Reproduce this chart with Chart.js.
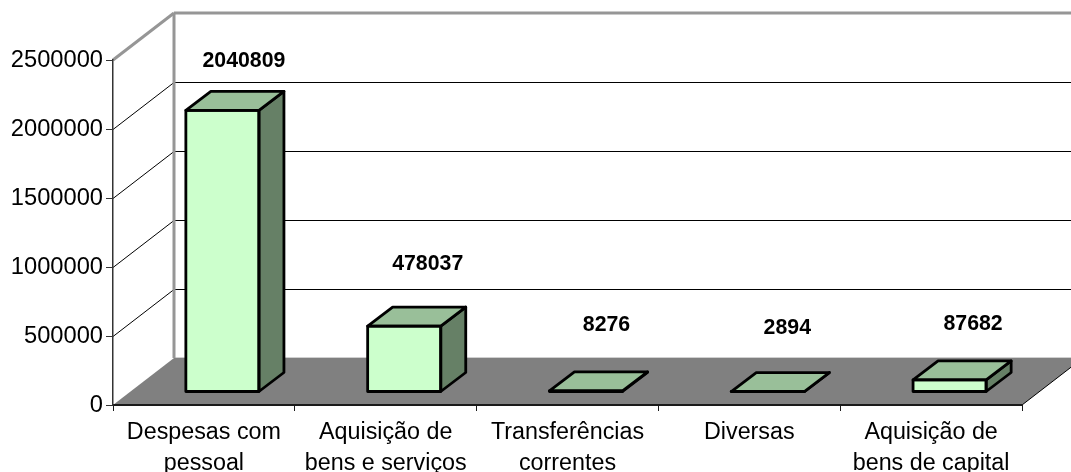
<!DOCTYPE html>
<html><head><meta charset="utf-8">
<script src="https://cdn.jsdelivr.net/npm/chart.js@4"></script>
<style>html,body{margin:0;padding:0;background:#fff}canvas{display:block}</style>
</head><body><canvas id="c" width="1071" height="472"></canvas>
<script>
const categories = [["Despesas com","pessoal"],["Aquisição de","bens e serviços"],["Transferências","correntes"],["Diversas"],["Aquisição de","bens de capital"]];
const values = [2040809, 478037, 8276, 2894, 87682];
const labelShiftX = [21.5, 23.5, 20.5, 19.5, 23.5];
const labelLift = [50, 63, 67, 64.5, 57];
const AXIS_MAX = 2500000, AXIS_STEP = 500000;
const WALL = {dx: 61, dy: -47};
const BAR_SHIFT = {dx: 18.5, dy: -13};
const DEPTH = {dx: 25, dy: -19};
const COL = {front:'#CCFFCC', top:'#99BF99', side:'#668066', floor:'#808080', wall:'#969696', ink:'#000'};
const FONT = 'Arial, "Liberation Sans", sans-serif';

function line(ctx, x1,y1,x2,y2,color,w){ctx.strokeStyle=color;ctx.lineWidth=w;ctx.beginPath();ctx.moveTo(x1,y1);ctx.lineTo(x2,y2);ctx.stroke();}
function poly(ctx, pts, fill){ctx.strokeStyle=COL.ink;ctx.lineWidth=2.8;ctx.lineJoin='round';ctx.beginPath();pts.forEach((p,i)=>i?ctx.lineTo(p[0],p[1]):ctx.moveTo(p[0],p[1]));ctx.closePath();if(fill){ctx.fillStyle=fill;ctx.fill();}ctx.stroke();}

const scene = {
  id:'scene',
  beforeDraw(chart){
    const {ctx, chartArea:a, scales:{y}} = chart;
    const x0=a.left, x1=a.right, y0=y.getPixelForValue(0), yM=y.getPixelForValue(AXIS_MAX);
    ctx.save();
    ctx.fillStyle=COL.floor;
    ctx.beginPath();ctx.moveTo(x0,y0);ctx.lineTo(x1,y0);ctx.lineTo(x1+WALL.dx,y0+WALL.dy);ctx.lineTo(x0+WALL.dx,y0+WALL.dy);ctx.closePath();ctx.fill();
    line(ctx,x0+WALL.dx,y0+WALL.dy-.5,x1+WALL.dx,y0+WALL.dy-.5,'#d0d0d0',1);
    y.ticks.forEach(t=>{
      const p=Math.round(y.getPixelForValue(t.value))+.5;
      if(t.value>0&&t.value<AXIS_MAX){
        line(ctx,x0,p,x0+WALL.dx,p+WALL.dy,COL.ink,1);
        line(ctx,x0+WALL.dx,p+WALL.dy,x1+WALL.dx,p+WALL.dy,COL.ink,1);
      }
    });
    line(ctx,x0+WALL.dx,yM+WALL.dy,x1+WALL.dx,yM+WALL.dy,COL.wall,3);
    line(ctx,x0+WALL.dx,yM+WALL.dy,x0+WALL.dx,y0+WALL.dy,COL.wall,3);
    line(ctx,x0,yM,x0+WALL.dx,yM+WALL.dy,COL.wall,3);
    line(ctx,x1,y0,x1+WALL.dx,y0+WALL.dy,COL.ink,1);
    ctx.restore();
  },
  beforeDatasetsDraw(chart){chart.ctx.save();chart.ctx.translate(BAR_SHIFT.dx,BAR_SHIFT.dy);},
  afterDatasetsDraw(chart){
    const ctx=chart.ctx;
    chart.getDatasetMeta(0).data.forEach((b)=>{
      const l=b.x-b.width/2, r=b.x+b.width/2, top=b.y, bt=b.base;
      poly(ctx,[[r,top],[r+DEPTH.dx,top+DEPTH.dy],[r+DEPTH.dx,bt+DEPTH.dy],[r,bt]],COL.side);
      poly(ctx,[[l,top],[l+DEPTH.dx,top+DEPTH.dy],[r+DEPTH.dx,top+DEPTH.dy],[r,top]],COL.top);
      poly(ctx,[[l,top],[r,top],[r,bt],[l,bt]],null);
    });
    ctx.restore();
    ctx.save();
    ctx.fillStyle=COL.ink;ctx.font='bold 21.3px '+FONT;ctx.textAlign='center';ctx.textBaseline='middle';
    chart.getDatasetMeta(0).data.forEach((b,i)=>{
      ctx.fillText(String(values[i]), b.x+BAR_SHIFT.dx+labelShiftX[i], b.y+BAR_SHIFT.dy-labelLift[i]+1);
    });
    ctx.restore();
  }
};

new Chart(document.getElementById('c'),{
  type:'bar',
  data:{labels:categories,datasets:[{data:values,backgroundColor:COL.front,borderWidth:0,
    categoryPercentage:1,barPercentage:0.402,clip:false}]},
  plugins:[scene],
  options:{
    responsive:false,animation:false,
    layout:{padding:{top:60,right:49,left:0,bottom:0}},
    plugins:{legend:{display:false},tooltip:{enabled:false},title:{display:false}},
    scales:{
      x:{
        afterFit(s){s.height=67;},
        border:{color:'#1a1a1a',width:2},
        grid:{drawOnChartArea:false,color:'#1a1a1a',tickLength:6,offset:true},
        ticks:{color:COL.ink,font:{family:FONT,size:23.3,lineHeight:1.32},maxRotation:0,minRotation:0,autoSkip:false,padding:6}
      },
      y:{
        min:0,max:AXIS_MAX,
        afterFit(s){s.width=113;},
        border:{color:'#333',width:1.5},
        grid:{drawOnChartArea:false,color:'#333',tickLength:7},
        ticks:{stepSize:AXIS_STEP,color:COL.ink,font:{family:FONT,size:23.7},padding:3,callback:v=>String(v)}
      }
    }
  }
});
</script></body></html>
